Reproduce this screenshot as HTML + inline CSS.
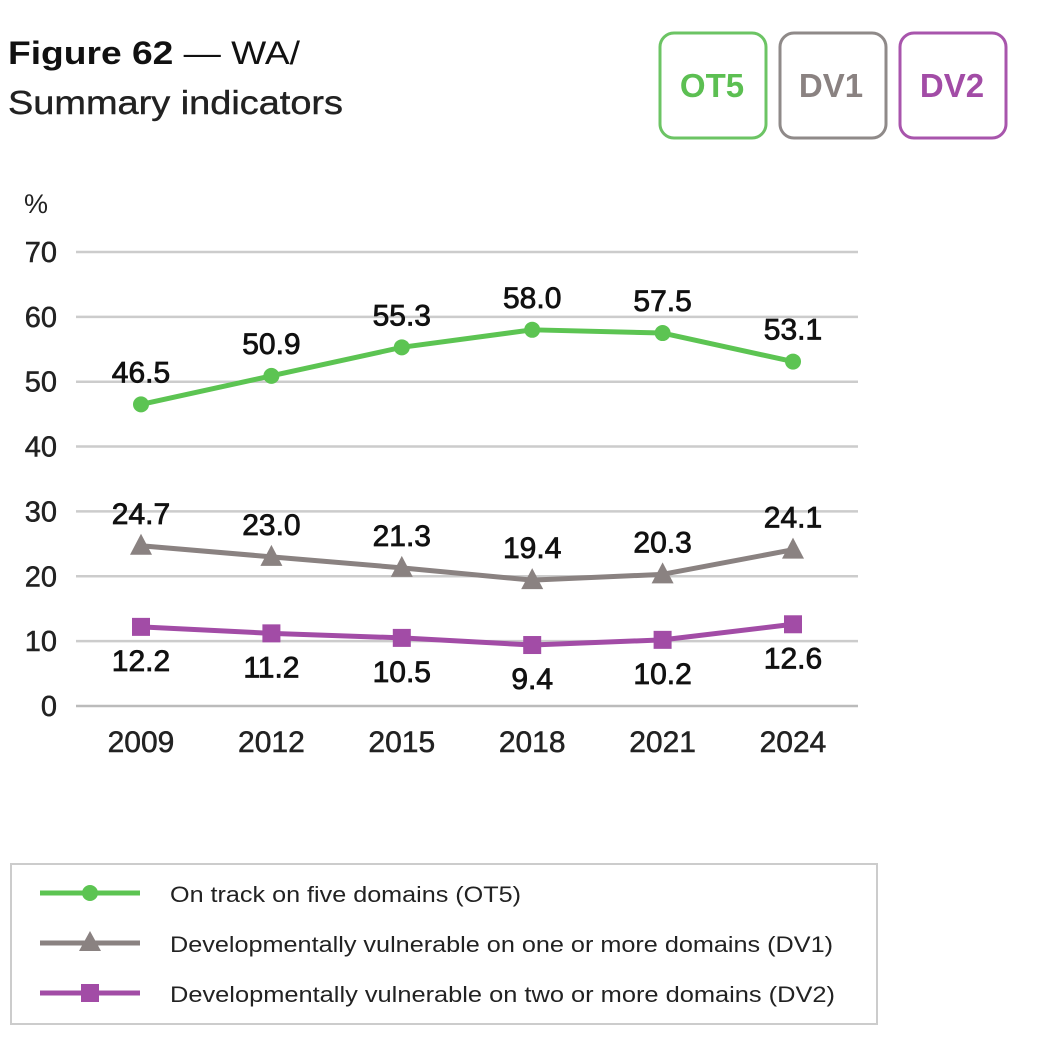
<!DOCTYPE html>
<html><head><meta charset="utf-8"><style>
body{margin:0;background:#fff;width:1064px;height:1032px;overflow:hidden;font-family:"Liberation Sans",Arial,sans-serif}
</style></head><body>
<svg width="1064" height="1032" viewBox="0 0 1064 1032" xmlns="http://www.w3.org/2000/svg" font-family="Liberation Sans, Arial, sans-serif">
<g>
<text x="8" y="64" font-size="32" fill="#111" textLength="292" lengthAdjust="spacingAndGlyphs"><tspan font-weight="bold">Figure 62</tspan> — WA/</text>
<text x="8" y="114" font-size="33" fill="#222" textLength="335" lengthAdjust="spacingAndGlyphs" stroke="#222" stroke-width="0.4">Summary indicators</text>
</g>
<g><rect x="660" y="33" width="106" height="105" rx="14" fill="none" stroke="#6cc464" stroke-width="3"/><text x="712" y="97" font-size="33" font-weight="bold" fill="#5cbf52" text-anchor="middle">OT5</text></g>
<g><rect x="780" y="33" width="106" height="105" rx="14" fill="none" stroke="#8f8a89" stroke-width="3"/><text x="831" y="97" font-size="33" font-weight="bold" fill="#8a8281" text-anchor="middle">DV1</text></g>
<g><rect x="900" y="33" width="106" height="105" rx="14" fill="none" stroke="#a855ac" stroke-width="3"/><text x="952" y="97" font-size="33" font-weight="bold" fill="#a24ca6" text-anchor="middle">DV2</text></g>
<text x="24" y="213" font-size="27" fill="#222">%</text>
<g id="grid"></g><g id="series"></g>
<g stroke-width="0">
<rect x="11" y="864" width="866" height="160" fill="none" stroke="#ccc" stroke-width="2"/>
<g><line x1="40" y1="893" x2="140" y2="893" stroke="#5cc452" stroke-width="5"/><circle cx="90" cy="893" r="8" fill="#5cc452"/><text x="170" y="902" font-size="22" fill="#222" textLength="351" lengthAdjust="spacingAndGlyphs">On track on five domains (OT5)</text></g>
<g><line x1="40" y1="943" x2="140" y2="943" stroke="#8a8281" stroke-width="5"/><polygon points="90,931 101,951 79,951" fill="#8a8281"/><text x="170" y="952" font-size="22" fill="#222" textLength="663" lengthAdjust="spacingAndGlyphs">Developmentally vulnerable on one or more domains (DV1)</text></g>
<g><line x1="40" y1="993" x2="140" y2="993" stroke="#a24ca6" stroke-width="5"/><rect x="81" y="984" width="18" height="18" fill="#a24ca6"/><text x="170" y="1002" font-size="22" fill="#222" textLength="665" lengthAdjust="spacingAndGlyphs">Developmentally vulnerable on two or more domains (DV2)</text></g>
</g>
</svg>
<script>
const years=["2009","2012","2015","2018","2021","2024"];
const ot5=[46.5,50.9,55.3,58.0,57.5,53.1];
const dv1=[24.7,23.0,21.3,19.4,20.3,24.1];
const dv2=[12.2,11.2,10.5,9.4,10.2,12.6];
const yTicks=[0,10,20,30,40,50,60,70];
const NS="http://www.w3.org/2000/svg";
const xS=i=>141+i*130.4;
const yS=v=>706-v*6.486;
function mk(tag,attrs,parent){const e=document.createElementNS(NS,tag);for(const k in attrs)e.setAttribute(k,attrs[k]);parent.appendChild(e);return e;}
const grid=document.getElementById('grid');
yTicks.forEach(t=>{
 const l=mk('line',{x1:76,x2:858,y1:yS(t),y2:yS(t),stroke:t===0?'#bbb':'#ccc','stroke-width':2.5},grid);
 
 
 const tx=mk('text',{x:57,y:yS(t)+10,'font-size':29,'text-anchor':'end',fill:'#222',stroke:'#222','stroke-width':0.5},grid);
 tx.textContent=t;
 
 
});
years.forEach((y,i)=>{
 const tx=mk('text',{x:xS(i),y:752,'font-size':30,'text-anchor':'middle',fill:'#222',stroke:'#222','stroke-width':0.5},grid);
 tx.textContent=y;
 
 
});
const ser=document.getElementById('series');
function draw(vals,color,name,marker,off){
 const g=mk('g',{},ser);
 
 
 mk('polyline',{points:vals.map((v,i)=>xS(i)+','+yS(v)).join(' '),fill:'none',stroke:color,'stroke-width':5,'stroke-linejoin':'round'},g);
 vals.forEach((v,i)=>{
  const x=xS(i),y=yS(v);let m;
  if(marker==='c')m=mk('circle',{cx:x,cy:y,r:8,fill:color},g);
  else if(marker==='t')m=mk('polygon',{points:`${x},${y-12} ${x+11},${y+9} ${x-11},${y+9}`,fill:color},g);
  else m=mk('rect',{x:x-9,y:y-9,width:18,height:18,fill:color},g);
  
  
  const t=mk('text',{x:x,y:y+off,'font-size':30,'text-anchor':'middle',fill:'#111',stroke:'#111','stroke-width':0.8},g);
  t.textContent=v.toFixed(1);
  
  
 });
}
draw(ot5,'#5cc452','ot5','c',-22);
draw(dv1,'#8a8281','dv1','t',-22);
draw(dv2,'#a24ca6','dv2','s',44);
</script>
</body></html>
